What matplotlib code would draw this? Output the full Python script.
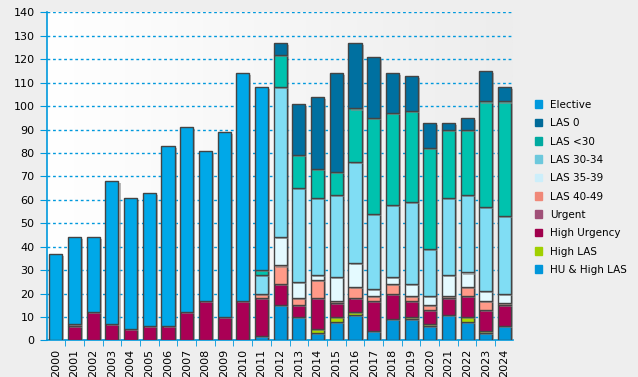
import matplotlib
matplotlib.use("Agg")
import matplotlib.pyplot as plt
import matplotlib.patheffects as pe
from matplotlib.colors import LinearSegmentedColormap
import numpy as np

years = [str(y) for y in range(2000, 2025)]

# stacked bottom -> top
hu_high_las = [0, 0, 0, 0, 0, 0, 0, 0, 0, 0, 0, 2, 15, 10, 3, 8, 11, 4, 9, 9, 6, 11, 8, 3, 6]
high_las    = [0, 0, 0, 0, 0, 0, 0, 0, 0, 0, 0, 0, 0, 0, 2, 2, 1, 0, 0, 1, 1, 0, 2, 1, 0]
high_urg    = [0, 6, 12, 7, 5, 6, 6, 12, 17, 10, 17, 16, 9, 5, 13, 6, 6, 13, 11, 7, 6, 7, 9, 9, 9]
urgent      = [0, 1, 0, 0, 0, 0, 0, 0, 0, 0, 0, 0, 0, 0, 0, 0, 0, 0, 0, 0, 0, 0, 0, 0, 0]
las_40_49   = [0, 0, 0, 0, 0, 0, 0, 0, 0, 0, 0, 2, 8, 3, 8, 1, 5, 2, 4, 2, 2, 1, 4, 4, 1]
las_35_39   = [0, 0, 0, 0, 0, 0, 0, 0, 0, 0, 0, 0, 12, 7, 2, 10, 10, 3, 3, 5, 4, 9, 6, 4, 4]
las_30_34   = [0, 0, 0, 0, 0, 0, 0, 0, 0, 0, 0, 8, 64, 40, 33, 35, 43, 32, 31, 35, 20, 33, 33, 36, 33]
las_lt30    = [0, 0, 0, 0, 0, 0, 0, 0, 0, 0, 0, 2, 14, 14, 12, 10, 23, 41, 39, 39, 43, 29, 28, 45, 49]
las_0       = [0, 0, 0, 0, 0, 0, 0, 0, 0, 0, 0, 0, 5, 22, 31, 42, 28, 26, 17, 15, 11, 3, 5, 13, 6]
elective    = [37, 37, 32, 61, 56, 57, 77, 79, 64, 79, 97, 78, 0, 0, 0, 0, 0, 0, 0, 0, 0, 0, 0, 0, 0]

series = [
    ("HU & High LAS", hu_high_las, "#0096DA", "#0096DA"),
    ("High LAS", high_las, "#A8D800", "#A0D000"),
    ("High Urgency", high_urg, "#AA0055", "#A0004C"),
    ("Urgent", urgent, "#A05078", "#A05078"),
    ("LAS 40-49", las_40_49, "#FF9A88", "#F08878"),
    ("LAS 35-39", las_35_39, "#E4FAFF", "#CCEEFA"),
    ("LAS 30-34", las_30_34, "#80DDF4", "#6CC8DC"),
    ("LAS <30", las_lt30, "#00C2AE", "#00AAA0"),
    ("LAS 0", las_0, "#0070A0", "#006A98"),
    ("Elective", elective, "#00A8E8", "#0099DD"),
]

fig = plt.figure(figsize=(6.38, 3.77), dpi=100, facecolor="#EEEEEE")
ax = fig.add_axes([0.0737, 0.097, 0.7303, 0.870])

x = np.arange(len(years))
bottom = np.zeros(len(years))
shadow = [pe.SimplePatchShadow(offset=(1.5, -1.5), shadow_rgbFace="#888888", alpha=0.6), pe.Normal()]
for name, vals, col, _ in series:
    vals = np.array(vals, dtype=float)
    bars = ax.bar(x, vals, 0.7, bottom=bottom, color=col, edgecolor="#444444",
                  linewidth=1, zorder=3, label=name)
    for b, v in zip(bars, vals):
        if v == 0:
            b.set_visible(False)
        else:
            b.set_path_effects(shadow)
    bottom += vals

# background gradient
grad = np.linspace(0, 1, 256).reshape(1, -1)
cm = LinearSegmentedColormap.from_list("bg", ["#FFFFFF", "#EDEDED"])
ax.imshow(grad, aspect="auto", cmap=cm, extent=[-0.47, 24.45, 0, 140], zorder=0)

ax.set_xlim(-0.47, 24.45)
ax.set_ylim(0, 140)
ax.set_yticks(np.arange(0, 141, 10))
ax.set_xticks(x)
ax.set_xticklabels(years, rotation=90, fontsize=8)
ax.set_xticks(np.arange(0.5, 24.5, 1), minor=True)
ax.tick_params(axis="x", which="major", length=0, pad=6)
ax.tick_params(axis="x", which="minor", length=4, color="#0099DD", direction="out")
ax.tick_params(axis="y", length=5, color="#0099DD", labelsize=8, pad=4)
ax.yaxis.grid(True, color="#0099DD", linestyle=(0, (2, 2)), linewidth=1, zorder=1)
for s in ["top", "right"]:
    ax.spines[s].set_visible(False)
for s in ["left", "bottom"]:
    ax.spines[s].set_color("#0099DD")
    ax.spines[s].set_linewidth(1.2)

leg_handles = [plt.Rectangle((0, 0), 1, 1, color=lc) for _, _, _, lc in series][::-1]
leg_labels = [n for n, _, _, _ in series][::-1]
fig.legend(leg_handles, leg_labels, loc="upper left", bbox_to_anchor=(0.838, 0.735),
           frameon=False, fontsize=7.5, handlelength=0.75, handleheight=0.75,
           handletextpad=0.7, labelspacing=0.8, borderpad=0, borderaxespad=0)

fig.savefig("out.png", dpi=100, facecolor=fig.get_facecolor())
